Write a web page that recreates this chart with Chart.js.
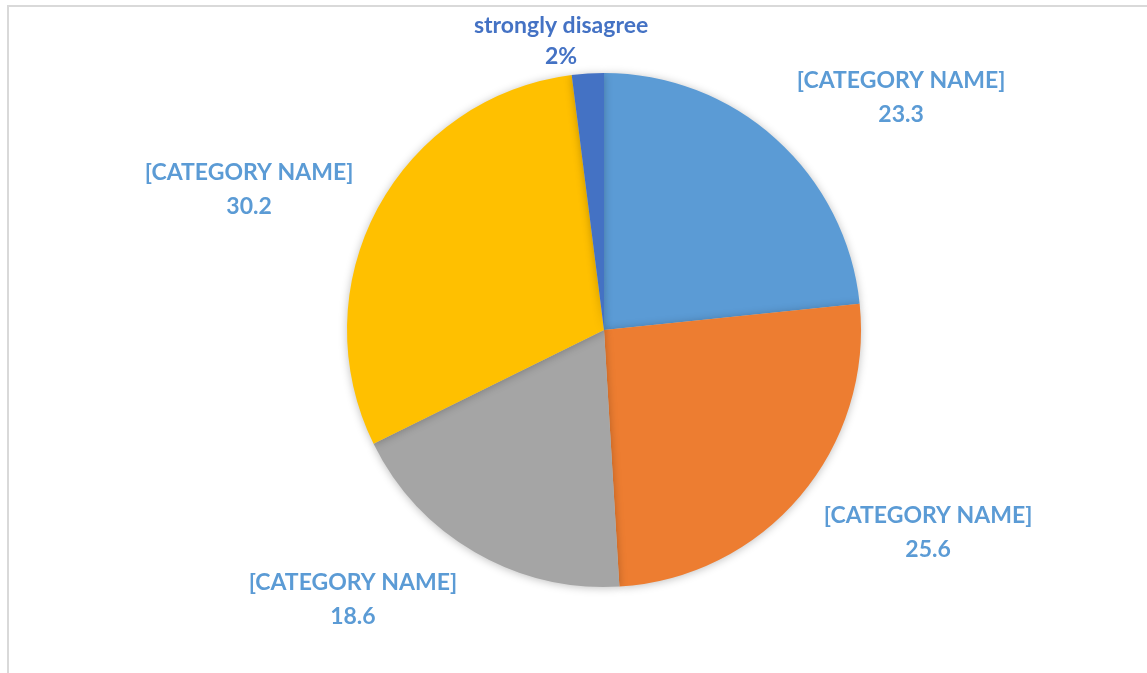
<!DOCTYPE html>
<html>
<head>
<meta charset="utf-8">
<script src="https://cdn.jsdelivr.net/npm/chart.js@4/dist/chart.umd.min.js"></script>
<style>
  html, body { margin: 0; padding: 0; background: #fff; overflow: hidden; }
  #frame { position: absolute; left: 7px; top: 5px; width: 1147px; height: 673px; border: 2px solid #d9d9d9; box-sizing: border-box; }
  #wrap { position: absolute; left: 0; top: 0; width: 1147px; height: 673px; }
</style>
</head>
<body>
<div id="frame"></div>
<div id="wrap"><canvas id="pie-chart"></canvas></div>
<script>
// slices, clockwise from 12 o'clock
const categories = ['[CATEGORY NAME]', '[CATEGORY NAME]', '[CATEGORY NAME]', '[CATEGORY NAME]', 'strongly disagree'];
const values = [23.3, 25.6, 18.6, 30.2, 2];
const valueText = ['23.3', '25.6', '18.6', '30.2', '2%'];
const colors = ['#5B9BD5', '#ED7D31', '#A5A5A5', '#FFC000', '#4472C4'];
const labelColors = ['#5B9BD5', '#5B9BD5', '#5B9BD5', '#5B9BD5', '#4472C4'];

// where each label sits, relative to the pie centre, in units of radius
const labelSpots = [[1.156, -0.969], [1.261, 0.724], [-0.977, 0.981], [-1.381, -0.611], [-0.167, -1.183]];

const labelPlugin = {
  id: 'outsideLabels',
  afterDatasetsDraw(chart) {
    const ctx = chart.ctx;
    const arc = chart.getDatasetMeta(0).data[0];
    const cx = arc.x, cy = arc.y, r = arc.outerRadius;
    ctx.save();
    ctx.font = 'bold 23px Lato';
    ctx.textAlign = 'center';
    ctx.textBaseline = 'middle';
    for (let i = 0; i < categories.length; i++) {
      const x = cx + labelSpots[i][0] * r;
      const y = cy + labelSpots[i][1] * r;
      ctx.fillStyle = labelColors[i];
      ctx.fillText(categories[i], x, y);
      ctx.fillText(valueText[i], x, y + (i === 4 ? 31 : 34));
    }
    ctx.restore();
  }
};

const shadowPlugin = {
  id: 'pieShadow',
  beforeDatasetDraw(chart) {
    const ctx = chart.ctx;
    ctx.save();
    ctx.shadowColor = 'rgba(0,0,0,0.25)';
    ctx.shadowBlur = 8;
    ctx.shadowOffsetX = 0;
    ctx.shadowOffsetY = 1;
  },
  afterDatasetDraw(chart) {
    chart.ctx.restore();
  }
};

new Chart(document.getElementById('pie-chart'), {
  type: 'pie',
  data: {
    labels: categories,
    datasets: [{
      data: values,
      backgroundColor: colors,
      borderWidth: 0
    }]
  },
  options: {
    responsive: true,
    maintainAspectRatio: false,
    animation: false,
    layout: { padding: { left: 347, right: 286, top: 73, bottom: 86 } },
    plugins: {
      legend: { display: false },
      tooltip: { enabled: false }
    }
  },
  plugins: [shadowPlugin, labelPlugin]
});
</script>
</body>
</html>
